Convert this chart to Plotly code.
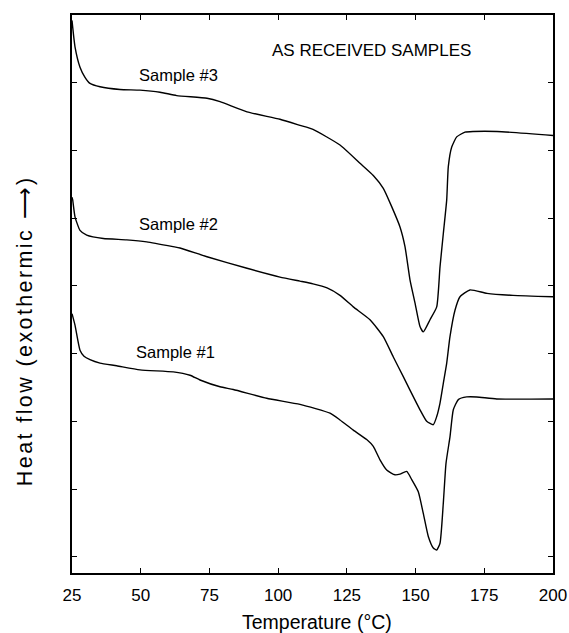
import plotly.graph_objects as go

# DSC heat-flow traces (arbitrary units, offset per sample)
t_s3 = [25.0, 26.09, 27.91, 29.73, 31.55, 35.19, 42.46, 49.74, 57.02, 63.09, 74.11, 78.85,
        88.67, 100.67, 107.95, 112.68, 122.5, 129.78, 134.62, 138.26, 141.31, 144.33, 146.15,
        147.97, 149.79, 151.61, 152.81, 155.25, 157.69, 158.89, 160.09, 161.33, 161.91, 163.15,
        164.96, 167.98, 171.0, 179.63, 200.0]
h_s3 = [8.92, 8.53, 8.23, 8.08, 7.99, 7.94, 7.90, 7.89, 7.86, 7.81, 7.77, 7.72,
        7.57, 7.46, 7.37, 7.31, 7.08, 6.81, 6.63, 6.44, 6.17, 5.87, 5.58,
        5.09, 4.75, 4.40, 4.32, 4.50, 4.69, 5.28, 5.77, 6.27, 6.76, 7.05,
        7.20, 7.27, 7.28, 7.28, 7.22]

t_s2 = [25.0, 25.25, 26.09, 27.91, 30.35, 36.39, 44.90, 52.18, 61.75, 64.29, 74.11, 88.67,
        100.67, 107.95, 112.68, 117.8, 122.5, 127.34, 133.42, 138.26, 141.9, 145.53, 147.97,
        151.61, 154.05, 156.45, 157.69, 158.89, 160.09, 161.33, 162.52, 164.34, 166.16, 169.8,
        175.98, 185.44, 200.0]
h_s2 = [6.31, 6.27, 6.02, 5.82, 5.75, 5.70, 5.68, 5.65, 5.58, 5.56, 5.43, 5.26,
        5.13, 5.07, 5.03, 4.97, 4.86, 4.69, 4.50, 4.25, 3.95, 3.66, 3.46,
        3.17, 3.00, 2.95, 3.07, 3.27, 3.56, 3.86, 4.25, 4.64, 4.84, 4.94,
        4.89, 4.86, 4.84]

t_s1 = [25.0, 26.09, 27.91, 29.37, 31.55, 35.19, 41.26, 49.74, 61.86, 67.93, 71.57, 78.85,
        83.68, 95.84, 107.95, 118.87, 122.5, 127.34, 132.22, 134.62, 137.06, 139.49, 142.51,
        144.33, 146.77, 148.59, 150.99, 152.81, 154.63, 156.45, 157.69, 158.89, 160.09, 161.07,
        162.52, 163.73, 165.55, 168.6, 172.24, 179.52, 200.0]
h_s1 = [4.59, 4.42, 4.05, 3.96, 3.91, 3.86, 3.82, 3.76, 3.73, 3.68, 3.61, 3.51,
        3.47, 3.34, 3.25, 3.12, 3.02, 2.87, 2.73, 2.63, 2.43, 2.28, 2.21,
        2.22, 2.26, 2.14, 1.96, 1.64, 1.30, 1.13, 1.10, 1.20, 1.79, 2.38,
        2.77, 3.17, 3.32, 3.36, 3.36, 3.33, 3.33]

x_ticks = [25, 50, 75, 100, 125, 150, 175, 200]
y_ticks = [1, 2, 3, 4, 5, 6, 7, 8]

FONT = "Liberation Sans, Arial, Helvetica, sans-serif"

fig = go.Figure()
for t, h in [(t_s1, h_s1), (t_s2, h_s2), (t_s3, h_s3)]:
    fig.add_trace(go.Scatter(x=t, y=h, mode="lines",
                             line=dict(color="black", width=1.4, shape="spline", smoothing=0.5),
                             showlegend=False, hoverinfo="skip"))

labels = [("Sample #3", 63.6, 8.12, 16.5), ("Sample #2", 63.6, 5.91, 16.5),
          ("Sample #1", 62.8, 4.02, 16.5), ("AS RECEIVED SAMPLES", 133.8, 8.48, 17)]
for text, x, y, size in labels:
    fig.add_annotation(x=x, y=y, text=text, showarrow=False, xref="x", yref="y",
                       font=dict(family=FONT, size=size, color="black"))

fig.add_annotation(x=0.51, y=-0.088, xref="paper", yref="paper", text="Temperature (°C)",
                   showarrow=False, xanchor="center", yanchor="middle",
                   font=dict(family=FONT, size=19.5, color="black"))
fig.add_annotation(x=-0.098, y=0.435, xref="paper", yref="paper",
                   text='<span style="letter-spacing:2.4px">Heat flow (exothermic ⟶)</span>',
                   textangle=-90, showarrow=False, xanchor="center", yanchor="middle",
                   font=dict(family=FONT, size=21.5, color="black"))

axis_common = dict(showgrid=False, zeroline=False, showline=True, linecolor="black", linewidth=1.5,
                   mirror="ticks", ticks="inside", ticklen=5, tickwidth=1, tickcolor="black",
                   automargin=False)

fig.update_xaxes(range=[25, 200], tickvals=x_ticks, ticktext=[str(v) for v in x_ticks],
                 tickfont=dict(family=FONT, size=17, color="black"), ticklabelstandoff=6, **axis_common)
fig.update_yaxes(range=[0.76, 9.0], tickvals=y_ticks, showticklabels=False, **axis_common)

fig.update_layout(width=569, height=633, margin=dict(l=72, r=16, t=15, b=60, autoexpand=False),
                  paper_bgcolor="white", plot_bgcolor="white")

fig.write_html("out.html")
